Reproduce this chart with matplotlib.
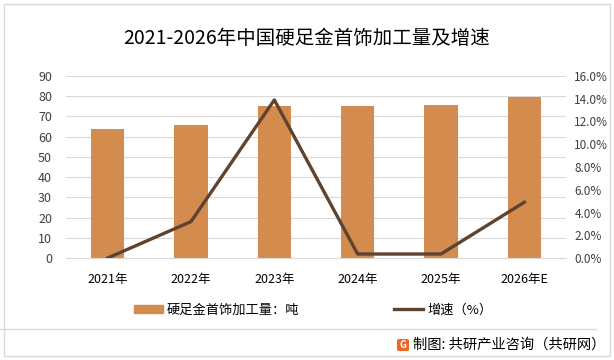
import matplotlib.pyplot as plt
import matplotlib.patches as mpatches
from matplotlib.lines import Line2D
from matplotlib.ticker import FuncFormatter

plt.rcParams['font.family'] = ['Noto Sans CJK SC', 'DejaVu Sans']

# data
years = ["2021年", "2022年", "2023年", "2024年", "2025年", "2026年E"]
output_t = [64, 66, 75.3, 75.3, 75.7, 79.8]
growth_pct = [0.0, 3.2, 13.9, 0.35, 0.35, 4.9]

bar_color = "#D48B4E"
line_color = "#5E4430"
grid_color = "#D9D9D9"

fig = plt.figure(figsize=(6.14, 3.6), dpi=100)
ax = fig.add_axes([66 / 614, 1 - 258 / 360, 500 / 614, 182 / 360])
x = list(range(len(years)))

ax.bar(x, output_t, width=0.4, color=bar_color, zorder=2)
ax.set_ylim(0, 90)
ax.set_yticks(range(0, 91, 10))
ax.set_xlim(-0.5, len(years) - 0.5)
ax.set_xticks(x)
ax.set_xticklabels(years)
ax.grid(axis="y", color=grid_color, linewidth=0.8, zorder=0)
for s in ["top", "left", "right"]:
    ax.spines[s].set_visible(False)
ax.spines["bottom"].set_color(grid_color)
ax.tick_params(axis="both", length=0, labelsize=9, colors="#404040")
ax.tick_params(axis="x", pad=11, labelcolor="#000000")
ax.tick_params(axis="y", pad=10)

ax2 = ax.twinx()
ax2.plot(x, growth_pct, color=line_color, linewidth=2.4, zorder=3)
ax2.set_ylim(0, 16)
ax2.set_yticks(range(0, 17, 2))
ax2.yaxis.set_major_formatter(FuncFormatter(lambda v, p: f"{v:.1f}%"))
for s in ["top", "left", "right", "bottom"]:
    ax2.spines[s].set_visible(False)
ax2.tick_params(axis="y", length=0, labelsize=8.5, colors="#404040", pad=6)

fig.text(0.5, 1 - 39 / 360, "2021-2026年中国硬足金首饰加工量及增速",
         ha="center", va="center", fontsize=14, color="#000000")

handles = [mpatches.Patch(color=bar_color),
           Line2D([0], [0], color=line_color, linewidth=2.4)]
fig.legend(handles, ["硬足金首饰加工量：吨", "增速（%）"],
           loc="center", bbox_to_anchor=(313 / 614, 1 - 310 / 360), ncol=2,
           frameon=False, fontsize=9.5, columnspacing=7.2, handlelength=2.2,
           handleheight=0.6, handletextpad=0.3)

# footer
fig.add_artist(Line2D([0, 596 / 614], [1 - 329 / 360] * 2,
                      transform=fig.transFigure, color="#D9D9D9", linewidth=1))
fig.add_artist(mpatches.Rectangle((4 / 614, 1 - 356 / 360), 606 / 614, 352 / 360,
                                  transform=fig.transFigure, fill=False,
                                  edgecolor="#D9D9D9", linewidth=1))
fig.add_artist(mpatches.FancyBboxPatch((397 / 614, 1 - 351 / 360), 12 / 614, 12 / 360,
                                       boxstyle="round,pad=0,rounding_size=0.004",
                                       transform=fig.transFigure,
                                       facecolor="#F26522", edgecolor="none"))
fig.text(403 / 614, 1 - 345 / 360, "G", ha="center", va="center",
         fontsize=7, color="white", fontweight="bold")
fig.text(413 / 614, 1 - 345 / 360, "制图: 共研产业咨询（共研网）",
         ha="left", va="center", fontsize=10.3, color="#000000")

fig.savefig("out.png", dpi=100)
